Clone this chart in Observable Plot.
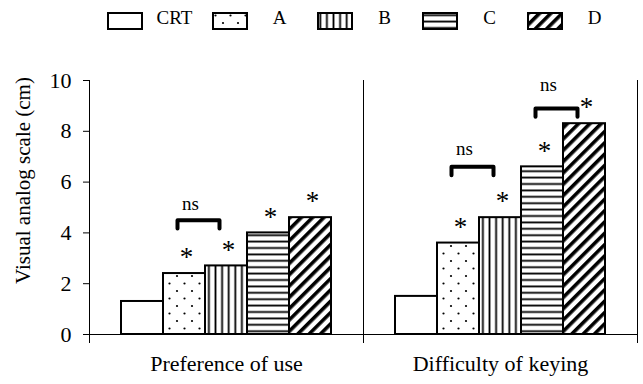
<!DOCTYPE html>
<html><head><meta charset="utf-8">
<script src="https://cdn.jsdelivr.net/npm/d3@7"></script>
<script src="https://cdn.jsdelivr.net/npm/@observablehq/plot@0.6"></script>
<style>
body{margin:0;background:#fff;font-family:"Liberation Serif","Times New Roman",serif;color:#000;}
#legend{position:relative;width:643px;height:40px;}
.sw{position:absolute;top:12px;}
.lab{position:absolute;top:8px;width:60px;text-align:center;font-size:19px;line-height:19px;}
</style></head><body>
<svg width="0" height="0" style="position:absolute">
  <defs>
    <pattern id="dots" patternUnits="userSpaceOnUse" width="15" height="15">
      <rect width="15" height="15" fill="white"/>
      <circle cx="3.5" cy="3.5" r="1.1" fill="black"/>
      <circle cx="11" cy="11" r="1.1" fill="black"/>
    </pattern>
    <pattern id="vlines" patternUnits="userSpaceOnUse" width="6.6" height="10">
      <rect width="6.6" height="10" fill="white"/>
      <rect x="2.4" width="1.8" height="10" fill="black"/>
    </pattern>
    <pattern id="hlines" patternUnits="userSpaceOnUse" width="10" height="6.4">
      <rect width="10" height="6.4" fill="white"/>
      <rect y="2.3" width="10" height="1.8" fill="black"/>
    </pattern>
    <pattern id="diag" patternUnits="userSpaceOnUse" width="8" height="8" patternTransform="rotate(45)">
      <rect width="8" height="8" fill="white"/>
      <rect x="0" width="3.6" height="8" fill="black"/>
    </pattern>
  </defs>
</svg>
<div id="legend"></div>
<div id="chart"></div>
<script>
const groups = ["Preference of use", "Difficulty of keying"];
const series = ["CRT", "A", "B", "C", "D"];
const preference = [1.3, 2.4, 2.7, 4.0, 4.6];
const difficulty = [1.5, 3.6, 4.6, 6.6, 8.3];
const fills = ["white", "url(#dots)", "url(#vlines)", "url(#hlines)", "url(#diag)"];
const starred = ["A", "B", "C", "D"];
const yTicks = [0, 2, 4, 6, 8, 10];
const yLabel = "Visual analog scale (cm)";
// "ns" brackets
const bracketGroup = [groups[0], groups[1], groups[1]];
const bracketFrom = ["A", "A", "C"];
const bracketTo = ["B", "B", "D"];
const bracketLevel = [4.5, 6.6, 8.9];
const nsLevel = [4.9, 7.05, 9.6];

const valuesByGroup = [preference, difficulty];
const rows = groups.flatMap((g, gi) => series.map((s, i) => ({group: g, series: s, value: valuesByGroup[gi][i]})));
const starRows = rows.filter(d => starred.includes(d.series));
const drop = 0.33;
const bracketPts = bracketGroup.flatMap((g, i) => [
  {id: i, group: g, series: bracketFrom[i], y: bracketLevel[i] - drop},
  {id: i, group: g, series: bracketFrom[i], y: bracketLevel[i]},
  {id: i, group: g, series: bracketTo[i], y: bracketLevel[i]},
  {id: i, group: g, series: bracketTo[i], y: bracketLevel[i] - drop}
]);
const nsRows = bracketGroup.map((g, i) => ({group: g, series: bracketFrom[i], y: nsLevel[i]}));

// legend
const legend = d3.select("#legend");
series.forEach((s, i) => {
  const left = 107 + i * 105;
  const sv = legend.append("svg").attr("class", "sw").style("left", left + "px")
    .attr("width", 36).attr("height", 18);
  sv.append("rect").attr("x", 1).attr("y", 1).attr("width", 34).attr("height", 16)
    .attr("fill", fills[i]).attr("stroke", "black").attr("stroke-width", 2);
  legend.append("span").attr("class", "lab").style("left", (left + 17.5 + 50 - 30) + "px").text(s);
});

const chart = Plot.plot({
  width: 643,
  height: 344,
  marginTop: 40,
  marginBottom: 50,
  marginLeft: 88,
  marginRight: 6,
  style: {fontFamily: "Liberation Serif, Times New Roman, serif", fontSize: "22px", color: "black", background: "white"},
  fx: {domain: groups, padding: 0},
  x: {domain: series, paddingInner: 0, paddingOuter: 0.743, axis: null},
  y: {domain: [0, 10]},
  color: {type: "ordinal", domain: series, range: fills},
  marks: [
    Plot.barY(rows, {fx: "group", x: "series", y: "value", fill: "series", stroke: "black", strokeWidth: 2}),
    Plot.ruleY([0], {stroke: "black", strokeWidth: 1}),
    Plot.frame({anchor: "left", insetBottom: -8, stroke: "black"}),
    Plot.frame({anchor: "right", insetBottom: -8, stroke: "black"}),
    Plot.axisY({ticks: yTicks, tickSize: 6, tickPadding: 12, fontSize: 22, label: null}),
    Plot.axisFx({anchor: "bottom", tickSize: 0, tickPadding: 21, fontSize: 22, label: null}),
    Plot.text([yLabel], {fx: [groups[0]], text: d => d, frameAnchor: "left", textAnchor: "middle", rotate: -90, dx: -66, dy: -27, fontSize: 21, fill: "black"}),
    Plot.text(starRows, {fx: "group", x: "series", y: "value", text: () => "*", dx: 2, dy: -16, fontSize: 27, fill: "black"}),
    Plot.line(bracketPts, {fx: "group", x: "series", y: "y", z: "id", stroke: "black", strokeWidth: 4, dx: -7, strokeLinejoin: "round", strokeLinecap: "round"}),
    Plot.text(nsRows, {fx: "group", x: "series", y: "y", text: () => "ns", dx: 6, fontSize: 19, lineAnchor: "bottom", fill: "black"})
  ]
});
document.getElementById("chart").appendChild(chart);
</script>
</body></html>
